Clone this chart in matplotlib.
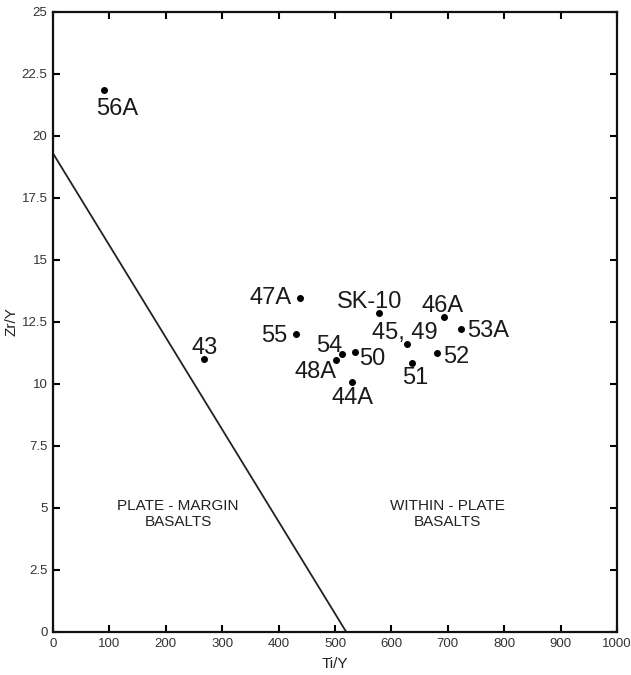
import matplotlib
matplotlib.use("Agg")
import matplotlib.pyplot as plt
from matplotlib.ticker import MultipleLocator, FuncFormatter

plt.rcParams['font.family'] = ['Liberation Sans', 'DejaVu Sans']

# Data
samples = ["56A", "43", "47A", "SK-10", "46A", "55", "53A", "45, 49",
           "54", "50", "48A", "52", "51", "44A"]
ti_y = [91, 268, 438, 578, 694, 430, 723, 627, 512, 535, 502, 681, 636, 530]
zr_y = [21.85, 11.0, 13.45, 12.85, 12.7, 12.0, 12.2, 11.6, 11.2, 11.3, 10.95, 11.25, 10.85, 10.1]

# discriminant line endpoints (Ti/Y, Zr/Y)
line_x = [0, 520]
line_y = [19.3, 0]

field_labels = ["PLATE - MARGIN\nBASALTS", "WITHIN - PLATE\nBASALTS"]
field_x = [222, 700]
field_y = [4.75, 4.75]

# label offsets in pixels (dx, dy downward) relative to each point
offsets = [(13, 19), (0, -11), (-29, 0), (-9, -11), (-2, -11), (-21, 2), (27, 2), (-2, -11),
           (-13, -8), (17, 7), (-21, 12), (19, 4), (4, 15), (1, 16)]

fig = plt.figure(figsize=(6.31, 6.75), dpi=100)
ax = fig.add_axes([53/631, 43/675, 564/631, 620/675])

ax.plot(line_x, line_y, color='#222222', lw=1.3)
ax.plot(ti_y, zr_y, 'o', color='black', ms=4, linestyle='none')

for name, x, y, (dx, dy) in zip(samples, ti_y, zr_y, offsets):
    ax.annotate(name, (x, y), xytext=(dx, -dy), textcoords='offset pixels',
                ha='center', va='center', fontsize=17, color='#1a1a1a')

for txt, x, y in zip(field_labels, field_x, field_y):
    ax.text(x, y, txt, ha='center', va='center', fontsize=11, color='#222222',
            linespacing=1.2)

ax.set_xlim(0, 1000)
ax.set_ylim(0, 25)
ax.xaxis.set_major_locator(MultipleLocator(100))
ax.yaxis.set_major_locator(MultipleLocator(2.5))
ax.yaxis.set_major_formatter(FuncFormatter(lambda v, p: f"{v:g}"))
ax.tick_params(direction='in', length=5, width=1.5, top=True, right=True,
               labelsize=9.5, labelcolor='#333333', pad=4)
for s in ax.spines.values():
    s.set_linewidth(1.6)
    s.set_color('#111111')

ax.set_xlabel("Ti/Y", fontsize=11, color='#222222', labelpad=5)
ax.set_ylabel("Zr/Y", fontsize=11, color='#222222', labelpad=2)

fig.savefig("out.png", dpi=100)
